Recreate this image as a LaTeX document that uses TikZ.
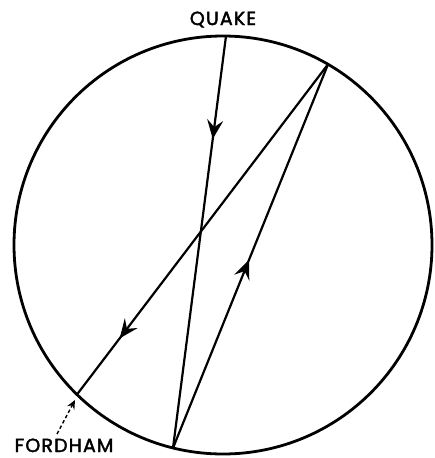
\documentclass[tikz,border=0pt]{standalone}
\usepackage{fontspec}
\newfontfamily\labfont[LetterSpace=6,FakeBold=2]{Poppins}
\usetikzlibrary{arrows.meta,decorations.markings}
\tikzset{
  ray/.style={line width=2.2pt},
  rim/.style={line width=2.8pt},
  midarrow/.style={postaction={decorate},decoration={markings,
    mark=at position #1 with {\arrow{Stealth[length=19pt,width=16pt,inset=7pt]}}}},
  lab/.style={font=\labfont\fontsize{19}{19}\selectfont, inner sep=0pt, anchor=base},
  pointer/.style={line width=1.4pt, dash pattern=on 3.5pt off 2.5pt, -{Stealth[length=9pt,width=8pt,inset=3pt]}}
}
\begin{document}
\begin{tikzpicture}[x=1pt,y=-1pt]
\useasboundingbox (0,0) rectangle (435,458);
\coordinate (C) at (223,245);
\draw[rim] (C) circle[radius=209];
\coordinate (Q) at (226,36);
\coordinate (R) at (328,64.3);
\coordinate (F) at (77,394.5);
\coordinate (B) at (173,448);
\draw[ray, midarrow=0.25] (Q) -- (B);
\draw[ray, midarrow=0.49] (B) -- (R);
\draw[ray, midarrow=0.83] (R) -- (F);
\node[lab] (quake) at (223,25) {QUAKE};
\node[lab] (fordham) at (64,452) {FORDHAM};
\coordinate (ps) at (57,434);
\coordinate (pe) at (75,400);
\draw[pointer] (ps) -- (pe);
\end{tikzpicture}
\end{document}
